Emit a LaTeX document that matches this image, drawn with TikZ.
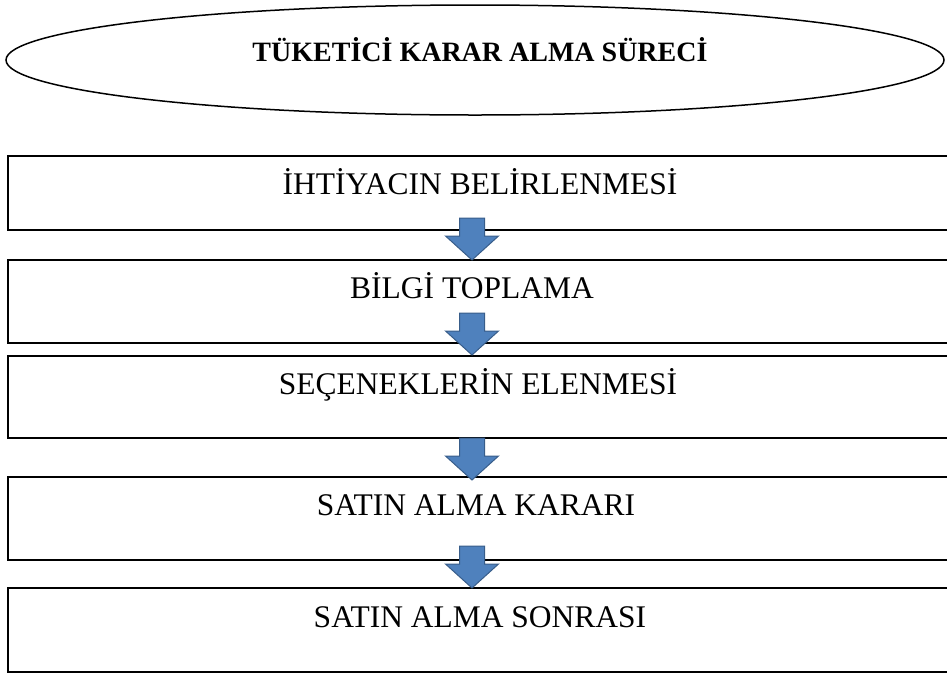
\documentclass[tikz,border=0pt]{standalone}
\usepackage{fontspec}
\setmainfont{Liberation Serif}
\usetikzlibrary{shapes.geometric}
\definecolor{arrfill}{HTML}{4F81BD}
\definecolor{arrdraw}{HTML}{385D8A}
\tikzset{
  stagebox/.style={draw=black, line width=2pt, rectangle, inner sep=0pt},
  stagetext/.style={font=\fontsize{31.5}{36}\selectfont, anchor=base, inner sep=0pt},
  titleoval/.style={draw=black, line width=1.5pt, ellipse, inner sep=0pt, minimum width=938pt, minimum height=110pt},
  titletext/.style={font=\bfseries\fontsize{28}{32}\selectfont, anchor=base, inner sep=0pt},
  blockarrow/.style={fill=arrfill, draw=arrdraw, line width=1pt, line join=miter},
  downarrow/.pic={\path[blockarrow] (-12.5,0) -- (12.5,0) -- (12.5,18) -- (26.5,18) -- (0,42) -- (-26.5,18) -- (-12.5,18) -- cycle;}
}
\begin{document}
\begin{tikzpicture}[x=1pt,y=-1pt]
\useasboundingbox (0,0) rectangle (947,673);
% title
\node[titleoval] (oval) at (475,60) {};
\node[titletext] (title) at (480,61) {TÜKETİCİ KARAR ALMA SÜRECİ};
% boxes
\node[stagebox, minimum width=950pt, minimum height=74pt] (b1) at (483,193) {};
\node[stagebox, minimum width=950pt, minimum height=83pt] (b2) at (483,301.5) {};
\node[stagebox, minimum width=950pt, minimum height=82pt] (b3) at (483,397) {};
\node[stagebox, minimum width=950pt, minimum height=83pt] (b4) at (483,518.5) {};
\node[stagebox, minimum width=950pt, minimum height=84pt] (b5) at (483,630) {};
% texts
\node[stagetext] (t1) at (480,194) {İHTİYACIN BELİRLENMESİ};
\node[stagetext] (t2) at (472,298) {BİLGİ TOPLAMA};
\node[stagetext] (t3) at (478,394) {SEÇENEKLERİN ELENMESİ};
\node[stagetext] (t4) at (476,515) {SATIN ALMA KARARI};
\node[stagetext] (t5) at (480,627) {SATIN ALMA SONRASI};
% arrows
\coordinate (a1) at (472,218);
\coordinate (a2) at (472,313);
\coordinate (a3) at (472,438);
\coordinate (a4) at (472,546);
\pic at (a1) {downarrow};
\pic at (a2) {downarrow};
\pic at (a3) {downarrow};
\pic at (a4) {downarrow};
\end{tikzpicture}
\end{document}
